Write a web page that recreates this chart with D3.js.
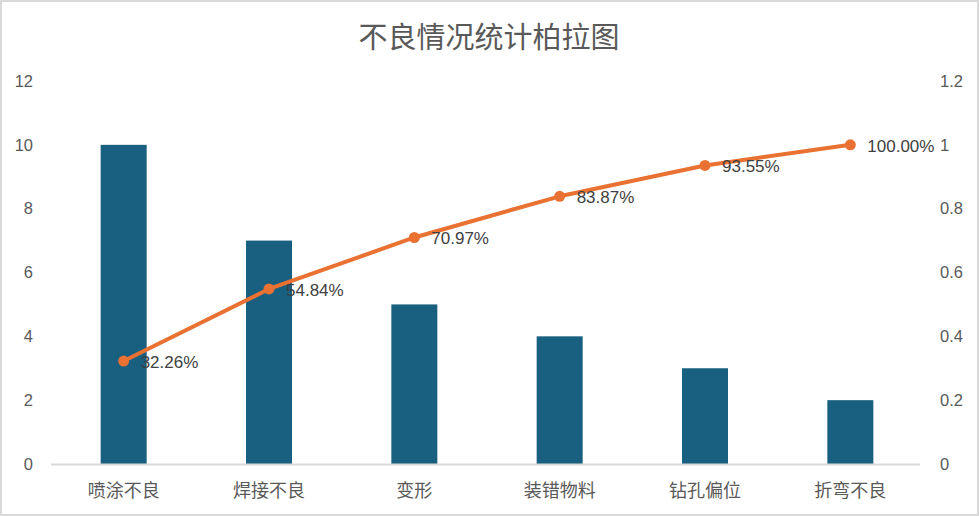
<!DOCTYPE html>
<html>
<head>
<meta charset="utf-8">
<script src="https://cdn.jsdelivr.net/npm/d3@7"></script>
<style>
  body { margin: 0; background: #fff; }
  svg { display: block; font-family: "Liberation Sans", Arial, "Noto Sans CJK SC", sans-serif; }
  .tick-label { fill: #595959; font-size: 16.5px; }
  .cat { fill: #595959; font-size: 18px; font-family: "Noto Sans CJK SC", sans-serif; }
  .title { fill: #595959; font-size: 29px; font-family: "Noto Sans CJK SC", sans-serif; }
  .dlabel { fill: #404040; font-size: 17px; }
</style>
</head>
<body>
<svg width="979" height="516"></svg>
<script>
const categories = ['喷涂不良', '焊接不良', '变形', '装错物料', '钻孔偏位', '折弯不良'];
const counts = [10, 7, 5, 4, 3, 2];
const cumPct = [0.3226, 0.5484, 0.7097, 0.8387, 0.9355, 1.0];
const cumLabels = ['32.26%', '54.84%', '70.97%', '83.87%', '93.55%', '100.00%'];
const leftTicks = [0, 2, 4, 6, 8, 10, 12];
const rightTicks = [0, 0.2, 0.4, 0.6, 0.8, 1, 1.2];

const svg = d3.select('svg');
const W = 979, H = 516;

// outer border
svg.append('rect')
  .attr('x', 1).attr('y', 1)
  .attr('width', W - 2).attr('height', H - 2)
  .attr('fill', '#fff')
  .attr('stroke', '#d9d9d9')
  .attr('stroke-width', 2);

const plotLeft = 51, plotRight = 923, plotTop = 81, plotBottom = 464;

const xc = d3.scaleBand().domain(categories).range([plotLeft, plotRight]);

const yL = d3.scaleLinear().domain([0, 12]).range([plotBottom, plotTop]);
const yR = d3.scaleLinear().domain([0, 1.2]).range([plotBottom, plotTop]);

// title
svg.append('text')
  .attr('class', 'title')
  .attr('x', 489)
  .attr('y', 48)
  .attr('text-anchor', 'middle')
  .text('不良情况统计柏拉图');

// bars
svg.append('g')
  .selectAll('rect')
  .data(counts)
  .join('rect')
  .attr('x', (d, i) => xc(categories[i]) + xc.bandwidth() / 2 - 23)
  .attr('y', d => yL(d))
  .attr('width', 46)
  .attr('height', d => yL(0) - yL(d))
  .attr('fill', '#185f80');

// x axis line
svg.append('line')
  .attr('x1', plotLeft).attr('x2', plotRight - 3)
  .attr('y1', yL(0) + 0.5).attr('y2', yL(0) + 0.5)
  .attr('stroke', '#d9d9d9')
  .attr('stroke-width', 2);

// left axis labels
svg.append('g')
  .selectAll('text')
  .data(leftTicks)
  .join('text')
  .attr('class', 'tick-label')
  .attr('x', 33)
  .attr('y', d => yL(d))
  .attr('dy', '0.35em')
  .attr('text-anchor', 'end')
  .text(d => d);

// right axis labels
svg.append('g')
  .selectAll('text')
  .data(rightTicks)
  .join('text')
  .attr('class', 'tick-label')
  .attr('x', 940)
  .attr('y', d => yR(d))
  .attr('dy', '0.35em')
  .attr('text-anchor', 'start')
  .text(d => d3.format('~g')(d));

// category labels
svg.append('g')
  .selectAll('text')
  .data(categories)
  .join('text')
  .attr('class', 'cat')
  .attr('x', d => xc(d) + xc.bandwidth() / 2)
  .attr('y', 497)
  .attr('text-anchor', 'middle')
  .text(d => d);

// cumulative line
const cx = i => xc(categories[i]) + xc.bandwidth() / 2;
const line = d3.line()
  .x((d, i) => cx(i))
  .y(d => yR(d));

svg.append('path')
  .datum(cumPct)
  .attr('d', line)
  .attr('fill', 'none')
  .attr('stroke', '#e97132')
  .attr('stroke-width', 4)
  .attr('stroke-linejoin', 'round');

svg.append('g')
  .selectAll('circle')
  .data(cumPct)
  .join('circle')
  .attr('cx', (d, i) => cx(i))
  .attr('cy', d => yR(d))
  .attr('r', 5.5)
  .attr('fill', '#e97132');

svg.append('g')
  .selectAll('text')
  .data(cumPct)
  .join('text')
  .attr('class', 'dlabel')
  .attr('x', (d, i) => cx(i) + 17)
  .attr('y', d => yR(d) + 1)
  .attr('dy', '0.35em')
  .text((d, i) => cumLabels[i]);
</script>
</body>
</html>
